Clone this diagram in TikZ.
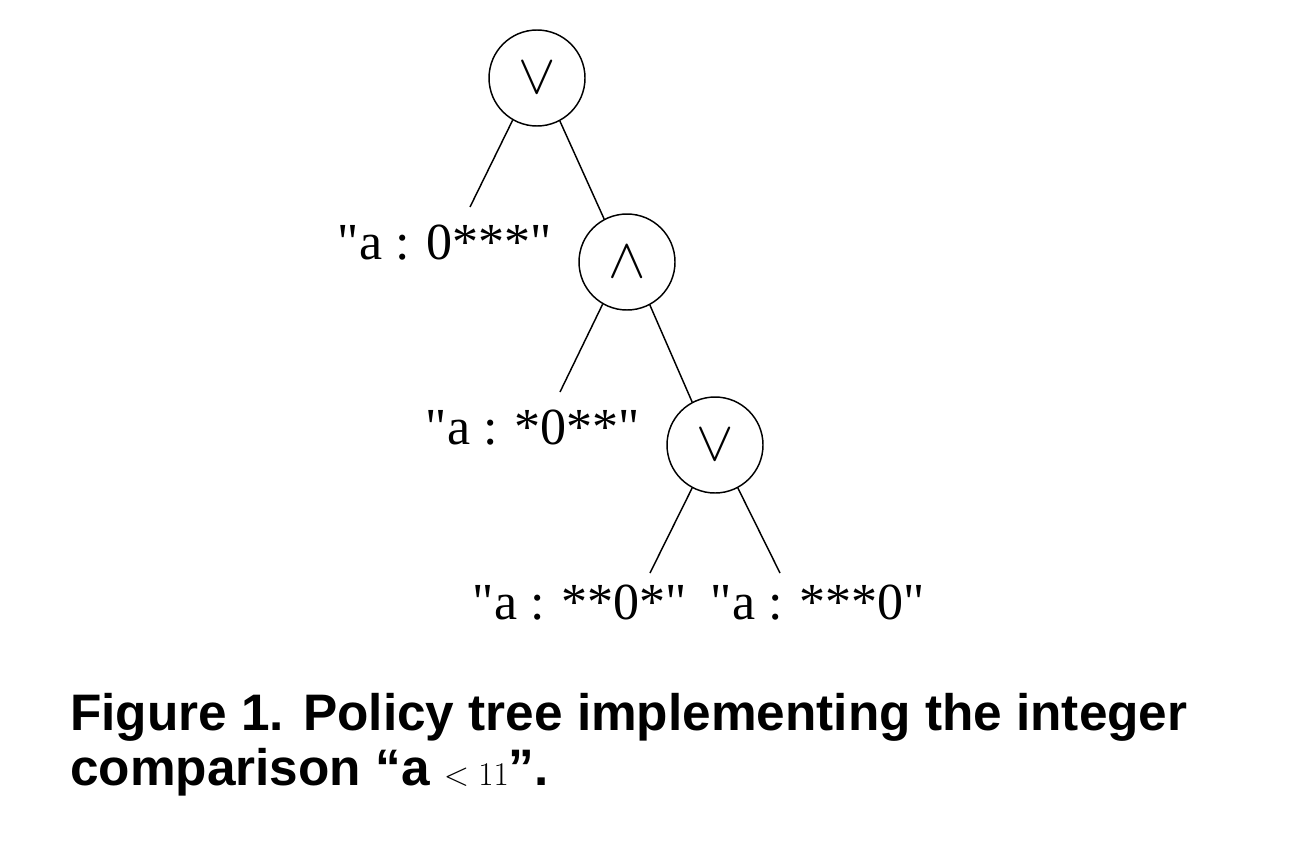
\documentclass[tikz,border=0pt]{standalone}
\usepackage{amsmath}
\usepackage{fontspec}
\setmainfont{Liberation Serif}
\newfontfamily\capfont[Ligatures=TeX]{Liberation Sans}
\begin{document}
\begin{tikzpicture}[x=0.75pt,y=-0.75pt,
  op/.style={circle,draw,line width=1.1pt,minimum size=72pt,inner sep=0pt},
  lbl/.style={font=\fontsize{39}{44}\selectfont,inner sep=0pt},
  edge/.style={line width=1.1pt}]
\useasboundingbox (0,0) rectangle (1308,846);
\node[op] (r) at (537,78) {\scalebox{4.2}{$\vee$}};
\node[op] (m) at (627,262) {\scalebox{4.2}{$\wedge$}};
\node[op] (b) at (715,445) {\scalebox{4.2}{$\vee$}};
\node[lbl] (l1) at (445,243) {\textquotedbl a : 0***\textquotedbl};
\node[lbl] (l2) at (533,428) {\textquotedbl a : *0**\textquotedbl};
\node[lbl] (l3) at (580,603) {\textquotedbl a : **0*\textquotedbl};
\node[lbl] (l4) at (818,603) {\textquotedbl a : ***0\textquotedbl};
\coordinate (e1) at (470,207);
\coordinate (e2) at (560,392);
\coordinate (e3) at (650,573);
\coordinate (e4) at (780,573);
\draw[edge] (r.240) -- (e1);
\draw[edge] (r.-62) -- (m.118);
\draw[edge] (m.240) -- (e2);
\draw[edge] (m.-62) -- (b.118);
\draw[edge] (b.242) -- (e3);
\draw[edge] (b.-62) -- (e4);
\node[anchor=north west,align=left,inner sep=0pt,font=\capfont\bfseries\fontsize{38.5}{41}\selectfont] (cap) at (70,693)
 {Figure 1. Policy tree implementing the integer\\comparison ``a $<11$''.};
\end{tikzpicture}
\end{document}
